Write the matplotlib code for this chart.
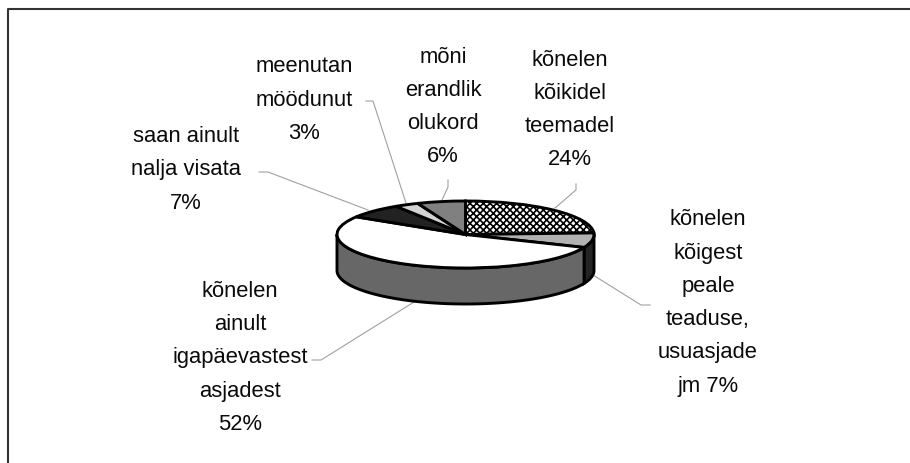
#!/usr/bin/env python3
import numpy as np
from matplotlib import pyplot as plt

plt.rcParams['font.family'] = ['Liberation Sans', 'DejaVu Sans']
plt.rcParams['hatch.linewidth'] = 1.2

W, H = 910, 463

# slices, clockwise from 12 o'clock
shares = [24, 7, 52, 7, 3, 6]
top_colors = ['white', '#b2b2b2', 'white', '#222222', '#d2d2d2', '#808080']
side_colors = ['#666666', '#242424', '#676767', '#222222', '#999999', '#555555']
labels = [
    "kõnelen\nkõikidel\nteemadel\n24%",
    "kõnelen\nkõigest\npeale\nteaduse,\nusuasjade\njm 7%",
    "kõnelen\nainult\nigapäevastest\nasjadest\n52%",
    "saan ainult\nnalja visata\n7%",
    "meenutan\nmöödunut\n3%",
    "mõni\nerandlik\nolukord\n6%",
]

# label centres and leader lines, in picture pixels
label_pos = [(570, 110), (708, 303), (240, 358), (186, 170), (304, 100), (443, 107)]
leaders = [
    [(555, 208), (576, 190), (576, 184)],
    [(593, 275), (641, 305), (650, 305)],
    [(414, 302), (321, 360), (312, 360)],
    [(368, 210), (268, 172), (259, 172)],
    [(406, 203), (373, 101), (366, 101)],
    [(442, 200), (448, 187), (448, 180)],
]

# pie ellipse in pixels
left, right = 337, 594
top, bottom = 201, 268
depth_px = 36

fig = plt.figure(figsize=(W / 100, H / 100), dpi=100)

# overlay in pixel coordinates for the frame, leaders and text
over = fig.add_axes([0, 0, 1, 1])
over.set_xlim(0, W)
over.set_ylim(H, 0)
over.axis('off')
over.plot([7.5, 7.5, W], [H, 8.5, 8.5], color='#333333', lw=1.5, solid_capstyle='butt')
for pts in leaders:
    xs, ys = zip(*pts)
    over.plot(xs, ys, color='#a0a0a0', lw=0.8)
for text, (x, y) in zip(labels, label_pos):
    over.text(x, y, text, ha='center', va='center', ma='center',
              fontsize=15.8, linespacing=1.77, color='#0a0a0a')

# pie axes: 1 unit is the ellipse radius in each direction
depth = depth_px / ((bottom - top) / 2)
ax = fig.add_axes([left / W, 1 - (bottom + depth_px) / H,
                   (right - left) / W, (bottom + depth_px - top) / H])
wedges, _ = ax.pie(shares, colors=top_colors, startangle=90, counterclock=False,
                   wedgeprops=dict(edgecolor='black', linewidth=2.1))
wedges[0].set_hatch('xxxxx')
ax.set_aspect('auto')
ax.set_xlim(-1, 1)
ax.set_ylim(-1 - depth, 1)
ax.axis('off')

# side wall, only the part of each slice that faces the viewer
edges = np.cumsum([0] + shares) / sum(shares) * 360
for start, end, color in zip(edges[:-1], edges[1:], side_colors):
    a, b = max(start, 90), min(end, 270)
    if a >= b:
        continue
    t = np.radians(np.linspace(a, b, 80))
    xs = np.r_[np.sin(t), np.sin(t)[::-1]]
    ys = np.r_[np.cos(t), np.cos(t)[::-1] - depth]
    ax.fill(xs, ys, facecolor=color, edgecolor='black', linewidth=2.1,
            clip_on=False, zorder=0.5)
for w in wedges:
    w.set_clip_on(False)
    w.set_zorder(1)

fig.savefig('out.png', dpi=100)
